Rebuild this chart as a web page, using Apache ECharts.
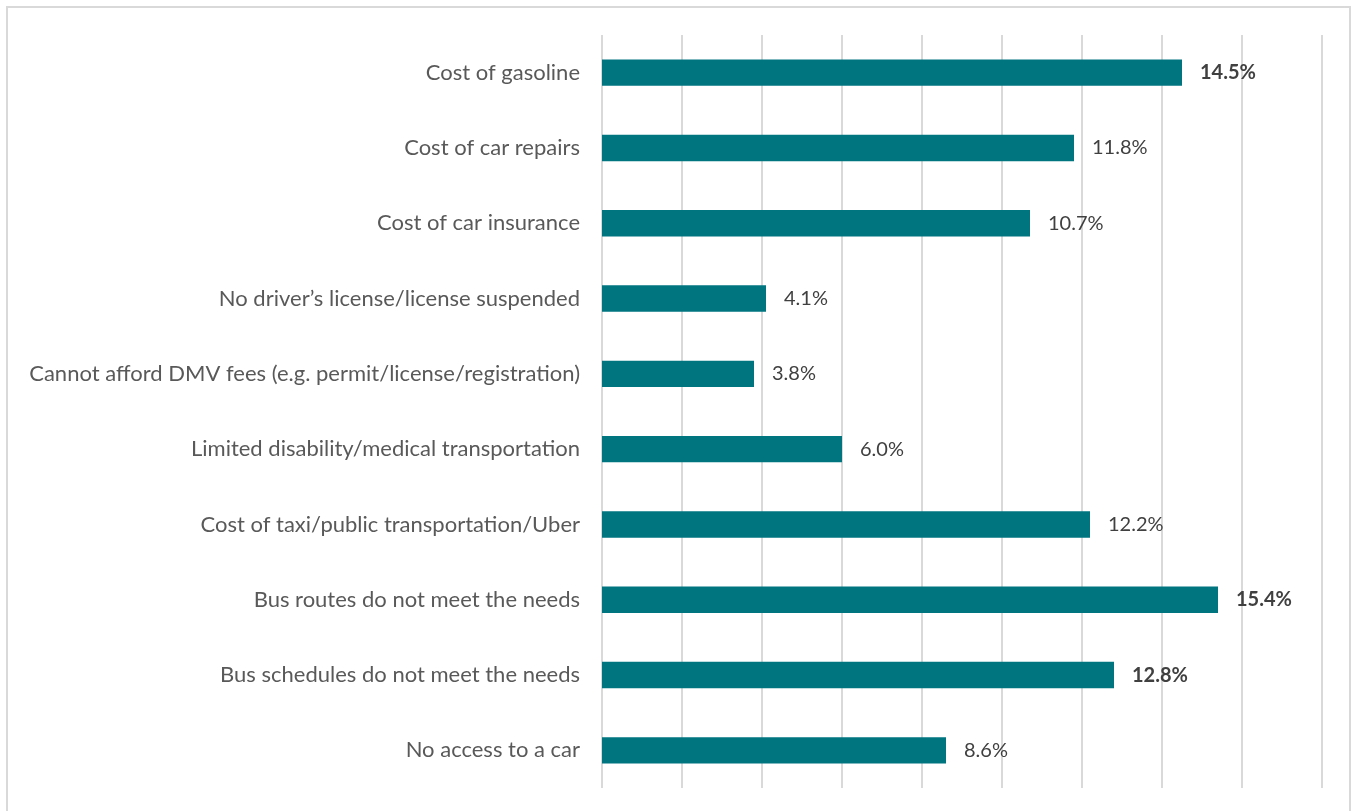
<!DOCTYPE html>
<html>
<head>
<meta charset="utf-8">
<script src="https://cdn.jsdelivr.net/npm/echarts@6/dist/echarts.min.js"></script>
<style>
  html, body { margin: 0; padding: 0; background: #fff; }
  #chart { width: 1354px; height: 811px; }
</style>
</head>
<body>
<div id="chart"></div>
<script>
// categories top to bottom
const categories = [
  'Cost of gasoline',
  'Cost of car repairs',
  'Cost of car insurance',
  'No driver\u2019s license/license suspended',
  'Cannot afford DMV fees (e.g. permit/license/registration)',
  'Limited disability/medical transportation',
  'Cost of taxi/public transportation/Uber',
  'Bus routes do not meet the needs',
  'Bus schedules do not meet the needs',
  'No access to a car'
];
const values = [14.5, 11.8, 10.7, 4.1, 3.8, 6.0, 12.2, 15.4, 12.8, 8.6];
// labels drawn in bold
const boldLabels = ['Cost of gasoline', 'Bus routes do not meet the needs', 'Bus schedules do not meet the needs'];

const font = 'Lato, "Open Sans", sans-serif';

const chart = echarts.init(document.getElementById('chart'));
chart.setOption({
  animation: false,
  backgroundColor: '#ffffff',
  graphic: [{
    type: 'rect',
    shape: { x: 7, y: 7, width: 1343, height: 830 },
    style: { fill: 'none', stroke: '#d9d9d9', lineWidth: 2 },
    silent: true
  }],
  grid: { left: 602, right: 32, top: 35, bottom: 23 },
  xAxis: {
    type: 'value',
    min: 0,
    max: 18,
    interval: 2,
    axisLabel: { show: false },
    axisLine: { show: false },
    axisTick: { show: false },
    splitLine: { lineStyle: { color: '#d9d9d9', width: 2 } }
  },
  yAxis: {
    type: 'category',
    inverse: true,
    data: categories,
    axisLine: { show: false },
    axisTick: { show: false },
    axisLabel: {
      margin: 22,
      color: '#595959',
      fontSize: 22,
      fontFamily: font
    }
  },
  series: [{
    type: 'bar',
    data: values.map((v, i) => ({
      value: v,
      label: boldLabels.includes(categories[i]) ? { fontWeight: 'bold' } : {}
    })),
    barCategoryGap: '65%',
    itemStyle: { color: '#007580' },
    label: {
      show: true,
      position: 'right',
      distance: 18,
      color: '#404040',
      fontSize: 20,
      fontFamily: font,
      formatter: p => p.value.toFixed(1) + '%'
    }
  }]
});
</script>
</body>
</html>
